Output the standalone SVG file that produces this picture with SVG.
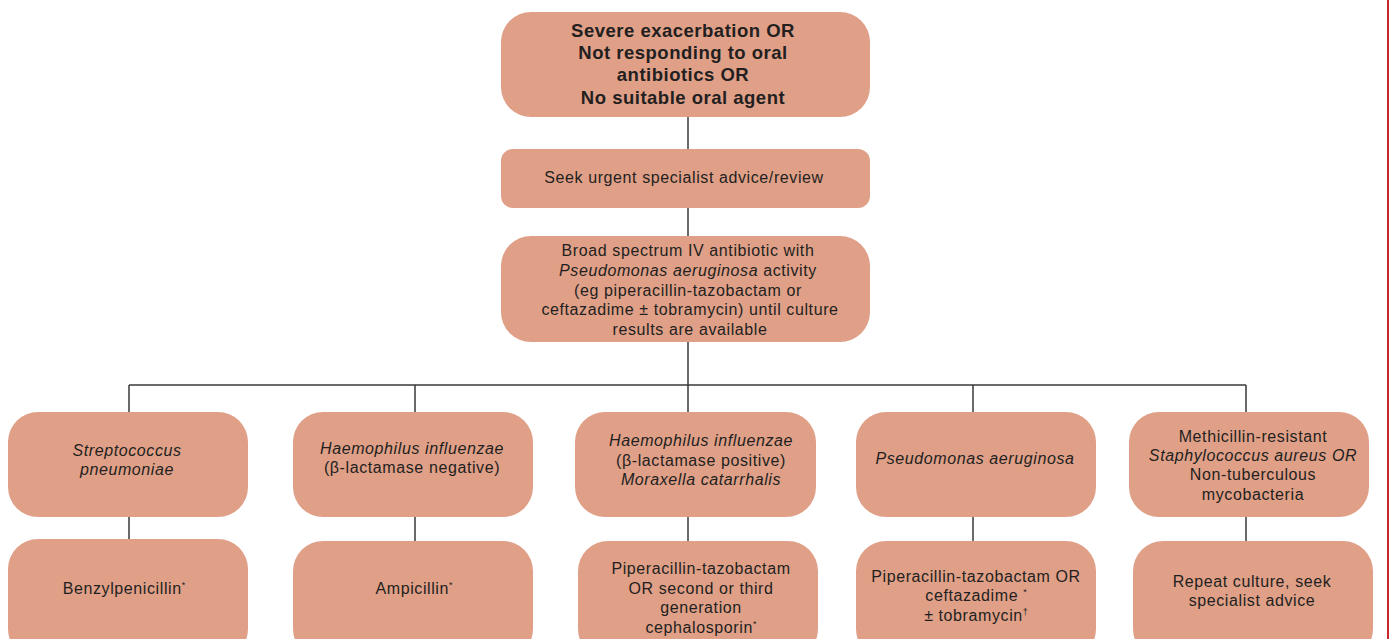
<svg xmlns="http://www.w3.org/2000/svg" width="1390" height="639" viewBox="0 0 1390 639">
<style>
.box{fill:#e0a088;}
.t{font-family:"Liberation Sans",Arial,sans-serif;font-size:16px;letter-spacing:0.6px;fill:#231f20;text-anchor:middle;}
.b{font-family:"Liberation Sans",Arial,sans-serif;font-size:18.5px;font-weight:bold;letter-spacing:0.5px;fill:#231f20;text-anchor:middle;}
.i{font-style:italic;}
.sup{font-size:9px;letter-spacing:0;}
.c{stroke:#3a3a3a;stroke-width:1.5;fill:none;}
</style>
<rect width="1390" height="639" fill="#ffffff"/>
<line x1="1388" y1="0" x2="1388" y2="639" stroke="#c8282e" stroke-width="2"/>
<g id="connectors">
<path class="c" d="M688 117V149M688 208V236M688 342V412M129 385H1246M129 385V412M415 385V412M973 385V412M1246 385V412M129 517V539M415 517V541M688 517V541M973 517V541M1246 517V541"/>
</g>
<g id="n1"><rect class="box" x="501" y="12" width="369" height="105" rx="30"/>
<text class="b" x="683" y="37">Severe exacerbation OR</text>
<text class="b" x="683" y="59">Not responding to oral</text>
<text class="b" x="683" y="81">antibiotics OR</text>
<text class="b" x="683" y="104">No suitable oral agent</text></g>
<g id="n2"><rect class="box" x="501" y="149" width="369" height="59" rx="12"/>
<text class="t" x="684" y="183">Seek urgent specialist advice/review</text></g>
<g id="n3"><rect class="box" x="501" y="236" width="369" height="106" rx="30"/>
<text class="t" x="688" y="256">Broad spectrum IV antibiotic with</text>
<text class="t" x="688" y="276"><tspan class="i">Pseudomonas aeruginosa</tspan> activity</text>
<text class="t" x="688" y="296">(eg piperacillin-tazobactam or</text>
<text class="t" x="690" y="315">ceftazadime ± tobramycin) until culture</text>
<text class="t" x="690" y="335">results are available</text></g>
<g id="a1"><rect class="box" x="8" y="412" width="240" height="105" rx="30"/>
<text class="t i" x="127" y="456">Streptococcus</text>
<text class="t i" x="127" y="475">pneumoniae</text></g>
<g id="b1"><rect class="box" x="293" y="412" width="240" height="105" rx="30"/>
<text class="t" x="412" y="454"><tspan class="i">Haemophilus influenzae</tspan></text>
<text class="t" x="412" y="473">(β-lactamase negative)</text></g>
<g id="c1"><rect class="box" x="575" y="412" width="241" height="105" rx="30"/>
<text class="t i" x="701" y="446">Haemophilus influenzae</text>
<text class="t" x="701" y="466">(β-lactamase positive)</text>
<text class="t i" x="701" y="485">Moraxella catarrhalis</text></g>
<g id="d1"><rect class="box" x="856" y="412" width="240" height="105" rx="30"/>
<text class="t i" x="975" y="464">Pseudomonas aeruginosa</text></g>
<g id="e1"><rect class="box" x="1129" y="412" width="240" height="105" rx="30"/>
<text class="t" x="1253" y="442">Methicillin-resistant</text>
<text class="t i" x="1253" y="461">Staphylococcus aureus OR</text>
<text class="t" x="1253" y="480">Non-tuberculous</text>
<text class="t" x="1253" y="500">mycobacteria</text></g>
<g id="a2"><rect class="box" x="8" y="539" width="240" height="120" rx="30"/>
<text class="t" x="124" y="594">Benzylpenicillin<tspan class="sup" dy="-6">*</tspan></text></g>
<g id="b2"><rect class="box" x="293" y="541" width="240" height="118" rx="30"/>
<text class="t" x="414" y="594">Ampicillin<tspan class="sup" dy="-6">*</tspan></text></g>
<g id="c2"><rect class="box" x="578" y="541" width="240" height="118" rx="30"/>
<text class="t" x="701" y="574">Piperacillin-tazobactam</text>
<text class="t" x="701" y="594">OR second or third</text>
<text class="t" x="701" y="613">generation</text>
<text class="t" x="701" y="633">cephalosporin<tspan class="sup" dy="-6">*</tspan></text></g>
<g id="d2"><rect class="box" x="856" y="541" width="240" height="118" rx="30"/>
<text class="t" x="976" y="582">Piperacillin-tazobactam OR</text>
<text class="t" x="976" y="601">ceftazadime <tspan class="sup" dy="-6">*</tspan></text>
<text class="t" x="976" y="621">± tobramycin<tspan class="sup" dy="-6">†</tspan></text></g>
<g id="e2"><rect class="box" x="1133" y="541" width="240" height="118" rx="30"/>
<text class="t" x="1252" y="587">Repeat culture, seek</text>
<text class="t" x="1252" y="606">specialist advice</text></g>
</svg>
